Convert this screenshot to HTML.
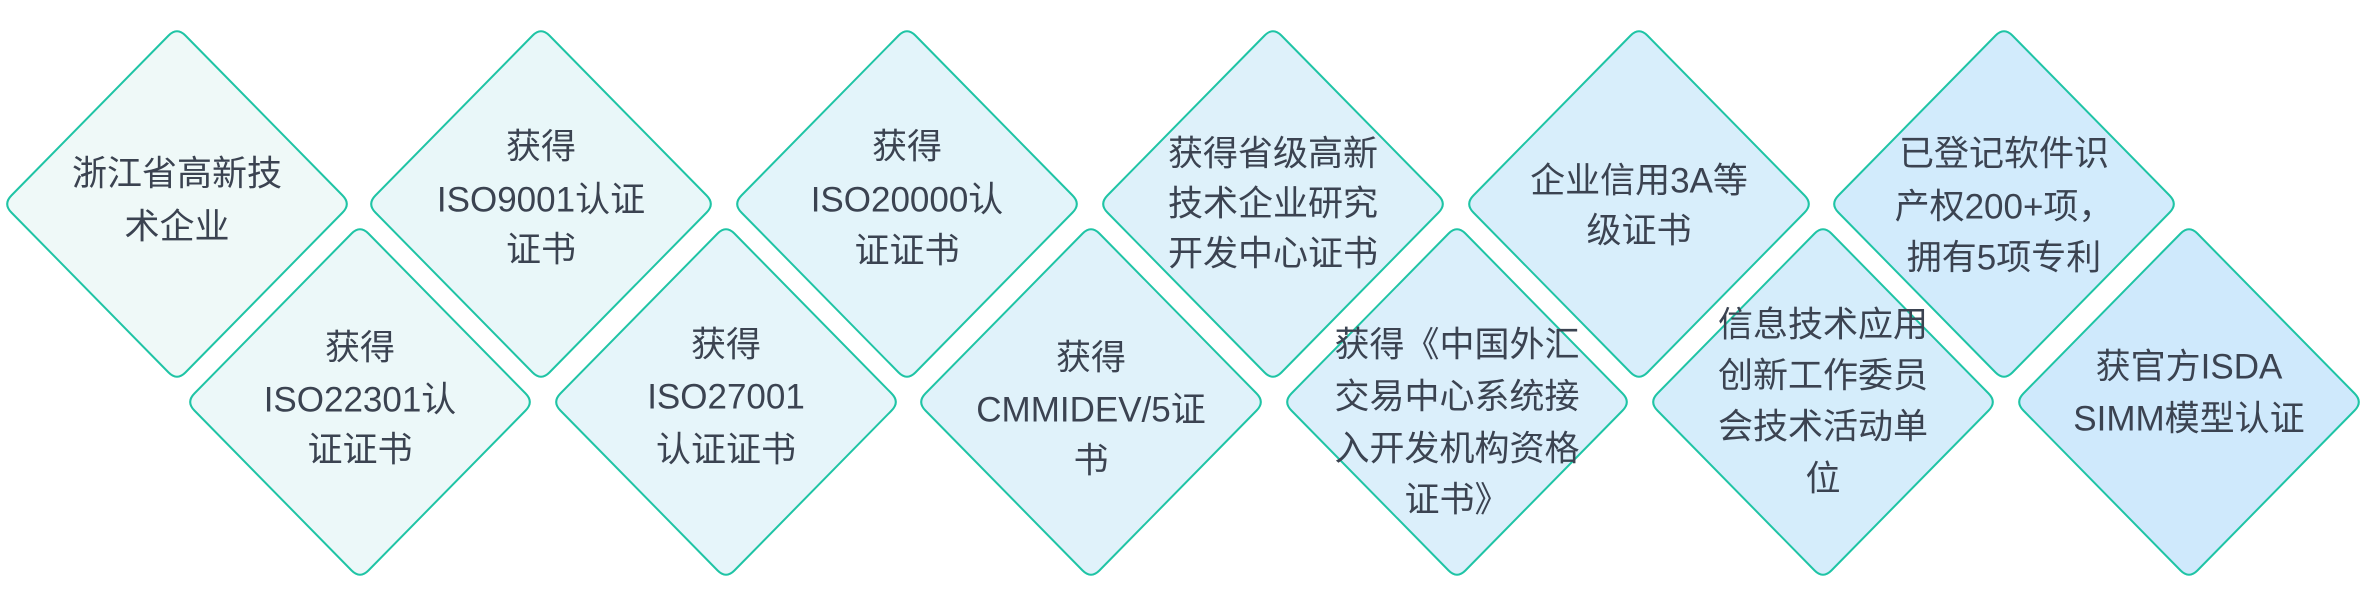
<!DOCTYPE html>
<html><head><meta charset="utf-8"><style>
html,body{margin:0;padding:0;background:#fff;}
svg{display:block}
text{font-family:"Liberation Sans","Noto Sans CJK SC",sans-serif;font-size:35px;fill:#3b4351;text-anchor:middle;dominant-baseline:central;}
</style></head><body>
<svg width="2370" height="592" viewBox="0 0 2370 592" xmlns="http://www.w3.org/2000/svg">
<defs>
<path id="d" d="M -8.4,-168.5 Q 0,-177 8.4,-168.5 L 165.6,-8.5 Q 174,0 165.6,8.5 L 8.4,168.5 Q 0,177 -8.4,168.5 L -165.6,8.5 Q -174,0 -165.6,-8.5 Z"/>
</defs>
<g stroke="#1fc4a5" stroke-width="2">
<use href="#d" x="177" y="204" fill="#eff9f8"/>
<use href="#d" x="541" y="204" fill="#e9f7f9"/>
<use href="#d" x="907" y="204" fill="#e3f4fa"/>
<use href="#d" x="1273" y="204" fill="#def1fa"/>
<use href="#d" x="1639" y="204" fill="#d8eefb"/>
<use href="#d" x="2004" y="204" fill="#d2ebfc"/>
<use href="#d" x="360" y="402" fill="#ecf8f9"/>
<use href="#d" x="726" y="402" fill="#e6f5fa"/>
<use href="#d" x="1091" y="402" fill="#e0f2fa"/>
<use href="#d" x="1457" y="402" fill="#dbeffb"/>
<use href="#d" x="1823" y="402" fill="#d5edfb"/>
<use href="#d" x="2189" y="402" fill="#cfe9fc"/>
</g>
<text x="177" y="174">浙江省高新技</text><text x="177" y="227">术企业</text>
<text x="541" y="147">获得</text><text x="541" y="200">ISO9001认证</text><text x="541" y="250">证书</text>
<text x="907" y="147">获得</text><text x="907" y="200">ISO20000认</text><text x="907" y="251">证证书</text>
<text x="1273" y="154">获得省级高新</text><text x="1273" y="204">技术企业研究</text><text x="1273" y="254">开发中心证书</text>
<text x="1639" y="181">企业信用3A等</text><text x="1639" y="231">级证书</text>
<text x="2004" y="154">已登记软件识</text><text x="2004" y="207">产权200+项，</text><text x="2004" y="258">拥有5项专利</text>
<text x="360" y="348">获得</text><text x="360" y="400">ISO22301认</text><text x="360" y="450">证证书</text>
<text x="726" y="345">获得</text><text x="726" y="397">ISO27001</text><text x="726" y="450">认证证书</text>
<text x="1091" y="358">获得</text><text x="1091" y="410">CMMIDEV/5证</text><text x="1091" y="461">书</text>
<text x="1457" y="345">获得《中国外汇</text><text x="1457" y="397">交易中心系统接</text><text x="1457" y="449">入开发机构资格</text><text x="1457" y="500">证书》</text>
<text x="1823" y="325">信息技术应用</text><text x="1823" y="376">创新工作委员</text><text x="1823" y="427">会技术活动单</text><text x="1823" y="479">位</text>
<text x="2189" y="367">获官方ISDA</text><text x="2189" y="419">SIMM模型认证</text>
</svg>
</body></html>
